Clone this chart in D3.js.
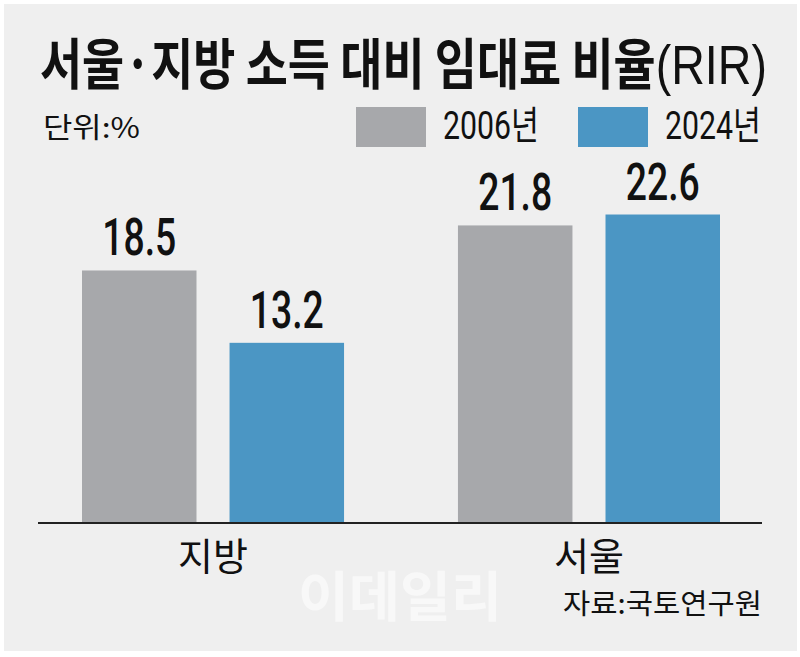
<!DOCTYPE html>
<html>
<head>
<meta charset="utf-8">
<script src="https://cdn.jsdelivr.net/npm/d3@7"></script>
<style>
  html, body { margin: 0; padding: 0; background: #fff; }
  svg { display: block; }
</style>
</head>
<body>
<div id="chart"></div>
<script>
const categories = ['지방', '서울'];
const seriesNames = ['2006년', '2024년'];
const values2006 = [18.5, 21.8];
const values2024 = [13.2, 22.6];

const dimension = {
  width: 800,
  height: 657,
  baseline: 523,
  top: 182
};

const colors = ['#a7a8ab', '#4b96c4'];
const koFont = '"Noto Sans CJK KR", "Noto Sans", sans-serif';
const numFont = 'Roboto, "Liberation Sans", "Noto Sans CJK KR", sans-serif';

// squeeze a text to a target width (the original uses condensed faces)
const fitText = (sel, x, y, targetWidth) => {
  sel.attr('x', 0).attr('y', 0);
  const w = sel.node().getComputedTextLength();
  const k = targetWidth / w;
  sel.attr('transform', `translate(${x},${y}) scale(${k},1)`);
};

const svg = d3.select('#chart')
  .append('svg')
  .attr('width', dimension.width)
  .attr('height', dimension.height);

svg.append('rect')
  .attr('x', 4).attr('y', 4)
  .attr('width', 793).attr('height', 647)
  .attr('fill', '#efefef');

// watermark
svg.append('text')
  .text('이데일리')
  .attr('font-family', koFont)
  .attr('font-weight', 700)
  .attr('font-size', 54)
  .attr('fill', '#f8f8f8')
  .attr('text-anchor', 'middle')
  .call(fitText, 400, 617, 204);

// title
const title = svg.append('text')
  .attr('font-family', koFont)
  .attr('font-weight', 700)
  .attr('font-size', 55)
  .attr('fill', '#111');
title.append('tspan').text('서울·지방 소득 대비 임대료 비율');
title.append('tspan')
  .text('(RIR)')
  .attr('font-family', '"Liberation Sans Narrow", "Liberation Sans", sans-serif')
  .attr('font-weight', 400)
  .attr('font-size', 56);
title.call(fitText, 40, 84, 727);

svg.append('text')
  .text('단위:%')
  .attr('font-family', koFont)
  .attr('font-size', 28)
  .attr('fill', '#111')
  .call(fitText, 43, 138, 97);

const data = categories.map((c, i) => ({
  category: c,
  values: [values2006[i], values2024[i]]
}));

const x0 = d3.scaleBand()
  .domain(categories)
  .range([82, 720])
  .paddingInner(0.303)
  .paddingOuter(0);

const x1 = d3.scaleBand()
  .domain(seriesNames)
  .range([0, x0.bandwidth()])
  .paddingInner(0.224);

const yScale = d3.scaleLinear()
  .domain([0, 25])
  .range([dimension.baseline, dimension.baseline - 25 * 13.65]);

const color = d3.scaleOrdinal().domain(seriesNames).range(colors);

// legend
const legendX = [356, 578];
seriesNames.forEach((s, i) => {
  svg.append('rect')
    .attr('x', legendX[i]).attr('y', 107)
    .attr('width', 70).attr('height', 40)
    .attr('fill', color(s));
  svg.append('text')
    .text(s)
    .attr('font-family', numFont)
    .attr('font-size', 39)
    .attr('fill', '#111')
    .call(fitText, legendX[i] + 87, 139, 96);
});

const groups = svg.selectAll('g.group')
  .data(data)
  .join('g')
  .attr('class', 'group')
  .attr('transform', d => `translate(${x0(d.category)},0)`);

const bars = groups.selectAll('g.bar')
  .data(d => d.values.map((v, i) => ({ series: seriesNames[i], value: v })))
  .join('g')
  .attr('class', 'bar');

bars.append('rect')
  .attr('x', d => x1(d.series))
  .attr('y', d => yScale(d.value))
  .attr('width', x1.bandwidth())
  .attr('height', d => yScale(0) - yScale(d.value))
  .attr('fill', d => color(d.series));

bars.append('text')
  .text(d => d.value.toFixed(1))
  .attr('font-family', numFont)
  .attr('font-weight', 500)
  .attr('font-size', 51)
  .attr('fill', '#111')
  .attr('text-anchor', 'middle')
  .each(function (d) {
    d3.select(this).call(fitText, x1(d.series) + x1.bandwidth() / 2, yScale(d.value) - 15, 74);
  });

// baseline
svg.append('line')
  .attr('x1', 38).attr('x2', 762)
  .attr('y1', dimension.baseline).attr('y2', dimension.baseline)
  .attr('stroke', '#222')
  .attr('stroke-width', 2);

// category labels via axis
const xAxis = d3.axisBottom(x0).tickSize(0).tickPadding(0);
const axisG = svg.append('g')
  .attr('transform', `translate(0,${dimension.baseline})`)
  .call(xAxis);
axisG.select('.domain').remove();
axisG.selectAll('text')
  .attr('font-family', koFont)
  .attr('font-size', 38)
  .attr('fill', '#111')
  .attr('dy', 0)
  .attr('y', 47);

svg.append('text')
  .text('자료:국토연구원')
  .attr('font-family', koFont)
  .attr('font-size', 28)
  .attr('fill', '#111')
  .attr('text-anchor', 'end')
  .call(fitText, 762, 614, 199);
</script>
</body>
</html>
